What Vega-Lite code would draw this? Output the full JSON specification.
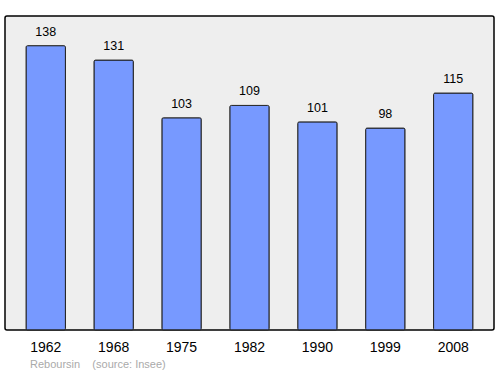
{
  "$schema": "https://vega.github.io/schema/vega-lite/v6.json",
  "width": 489,
  "height": 314,
  "autosize": {"type": "none"},
  "padding": {"left": 5, "top": 16, "right": 6, "bottom": 44},
  "background": "#ffffff",
  "config": {
    "font": "Liberation Sans",
    "view": {"fill": "#eeeeee", "stroke": "#000000", "strokeWidth": 1.5, "cornerRadius": 2}
  },
  "title": {
    "text": "Reboursin\u00a0\u00a0\u00a0\u00a0(source: Insee)",
    "orient": "bottom",
    "anchor": "start",
    "dx": 25,
    "offset": 5,
    "fontSize": 11,
    "fontWeight": "normal",
    "color": "#aaaaaa",
    "font": "Liberation Sans"
  },
  "data": {
    "values": [
      {"year": "1962", "pop": 138},
      {"year": "1968", "pop": 131},
      {"year": "1975", "pop": 103},
      {"year": "1982", "pop": 109},
      {"year": "1990", "pop": 101},
      {"year": "1999", "pop": 98},
      {"year": "2008", "pop": 115}
    ]
  },
  "encoding": {
    "x": {
      "field": "year",
      "type": "ordinal",
      "scale": {"paddingInner": 0.42, "paddingOuter": 0.31},
      "axis": {
        "title": null,
        "labelAngle": 0,
        "ticks": false,
        "domain": false,
        "labelFontSize": 14,
        "labelColor": "#000000",
        "labelPadding": 10
      }
    },
    "y": {
      "field": "pop",
      "type": "quantitative",
      "scale": {"domain": [0, 152.4], "nice": false, "zero": true},
      "axis": null
    }
  },
  "layer": [
    {
      "mark": {"type": "bar", "fill": "#7799ff", "stroke": "#222222", "strokeWidth": 1, "cornerRadius": 1.5}
    },
    {
      "mark": {"type": "text", "dy": -14, "fontSize": 12.5, "color": "#000000", "baseline": "middle"},
      "encoding": {"text": {"field": "pop", "type": "quantitative"}}
    }
  ]
}
